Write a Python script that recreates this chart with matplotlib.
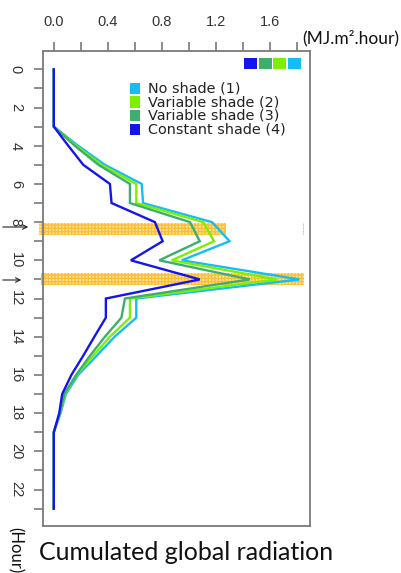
import matplotlib
matplotlib.use("Agg")
import matplotlib.pyplot as plt
from matplotlib.patches import Rectangle

# ---------------- data ----------------
hours = list(range(24))
no_shade   = [0, 0, 0, 0, 0.18, 0.378, 0.65, 0.66, 1.17, 1.30, 0.946, 1.817, 0.61, 0.61, 0.45, 0.316, 0.18, 0.089, 0.05, 0, 0, 0, 0, 0]
var_shade2 = [0, 0, 0, 0, 0.165, 0.353, 0.61, 0.61, 1.106, 1.185, 0.872, 1.65, 0.563, 0.563, 0.415, 0.29, 0.168, 0.083, 0.047, 0, 0, 0, 0, 0]
var_shade3 = [0, 0, 0, 0, 0.155, 0.33, 0.563, 0.563, 1.007, 1.08, 0.78, 1.45, 0.526, 0.50, 0.378, 0.267, 0.165, 0.078, 0.045, 0, 0, 0, 0, 0]
const_shade = [0, 0, 0, 0, 0.107, 0.218, 0.415, 0.427, 0.748, 0.805, 0.57, 1.08, 0.385, 0.385, 0.30, 0.217, 0.13, 0.062, 0.04, 0, 0, 0, 0, 0]

series = [no_shade, var_shade2, var_shade3, const_shade]
labels = ["No shade (1)", "Variable shade (2)", "Variable shade (3)", "Constant shade (4)"]
colors = ["#12BEF5", "#7CF000", "#3CAE6E", "#1414F0"]

# highlighted hour bands: (y0, y1, x0, x1)
bands = [(8.05, 8.67, -0.11, 1.27), (8.05, 8.67, 1.84, 1.85), (10.68, 11.30, -0.095, 1.85)]

xticks_major = [0.0, 0.4, 0.8, 1.2, 1.6]
xtick_labels = ["0.0", "0.4", "0.8", "1.2", "1.6"]
xticks_minor = [0.2, 0.6, 1.0, 1.4, 1.8]
yticks_major = list(range(0, 23, 2))
yticks_minor = list(range(0, 24))

W, H = 402, 573
fig = plt.figure(figsize=(W / 100, H / 100), dpi=100)
fig.patch.set_facecolor("white")

def fx(x):
    return x / W

def fy(y):
    return 1 - y / H

ax_l, ax_r, ax_t, ax_b = 43, 310, 51, 526
ax = fig.add_axes([fx(ax_l), fy(ax_b), (ax_r - ax_l) / W, (ax_b - ax_t) / H])

for vals, col in zip(series, colors):
    ax.plot(vals, hours, color=col, lw=1.7, solid_joinstyle="miter", zorder=3)

for y0, y1, x0, x1 in bands:
    ax.add_patch(Rectangle((x0, y0), x1 - x0, y1 - y0, facecolor="#FFE08C",
                           edgecolor="#FFB81E", hatch="+++++", lw=0, alpha=0.85,
                           clip_on=False, zorder=2))

ax.set_xlim(-0.08, 1.895)
ax.set_ylim(23.91, -0.96)

ax.xaxis.tick_top()
ax.set_xticks(xticks_major)
ax.set_xticklabels(xtick_labels)
ax.set_xticks(xticks_minor, minor=True)
ax.set_yticks(yticks_major)
ax.set_yticklabels([str(v) for v in yticks_major])
ax.set_yticks(yticks_minor, minor=True)

for s in ax.spines.values():
    s.set_color("#7a7a7a")
    s.set_linewidth(1.3)

ax.tick_params(axis="both", which="both", length=6.5, width=1.2, color="#7a7a7a",
               direction="out")
ax.tick_params(axis="x", which="major", labelsize=10.5, pad=9.5, labelcolor="#333333")
ax.tick_params(axis="y", which="major", labelsize=10.5, pad=8, labelcolor="#333333",
               labelrotation=-90)
for t in ax.get_yticklabels():
    t.set_va("center")
    t.set_family("Liberation Sans")
for t in ax.get_xticklabels():
    t.set_family("Liberation Sans")

# legend (manual)
row_y = [88.3, 102.0, 115.8, 129.6]
for lab, col, yy in zip(labels, colors, row_y):
    fig.patches.append(Rectangle((fx(130), fy(yy + 5.5)), 10 / W, 11 / H,
                                 facecolor=col, edgecolor="none",
                                 transform=fig.transFigure, figure=fig))
    fig.text(fx(148), fy(yy), lab, fontsize=10.4, family="DejaVu Sans",
             color="#222222", ha="left", va="center")

# top colour squares
sq_x = [244, 259, 273.5, 288.5]
for col, x0 in zip(colors[::-1], sq_x):
    fig.patches.append(Rectangle((fx(x0), fy(69)), 13 / W, 11 / H,
                                 facecolor=col, edgecolor="none",
                                 transform=fig.transFigure, figure=fig))

# arrows
ax.annotate("", xy=(31, H - 227), xytext=(0, H - 227), xycoords="figure pixels",
            textcoords="figure pixels",
            arrowprops=dict(arrowstyle="->", color="#222222", lw=0.8,
                            mutation_scale=8))
ax.annotate("", xy=(24, H - 280), xytext=(0, H - 280), xycoords="figure pixels",
            textcoords="figure pixels",
            arrowprops=dict(arrowstyle="->", color="#222222", lw=0.8,
                            mutation_scale=8))

fig.text(fx(302), fy(38), "(MJ.m².hour)", fontsize=12.5, family="Lato",
         ha="left", va="center", color="#111111")
fig.text(fx(39), fy(553), "Cumulated global radiation", fontsize=18,
         family="Lato", ha="left", va="center", color="#111111")
fig.text(fx(15), fy(527), "(Hour)", fontsize=12, family="Lato", rotation=-90,
         ha="center", va="top", color="#111111")

fig.savefig("out.png", dpi=100)
